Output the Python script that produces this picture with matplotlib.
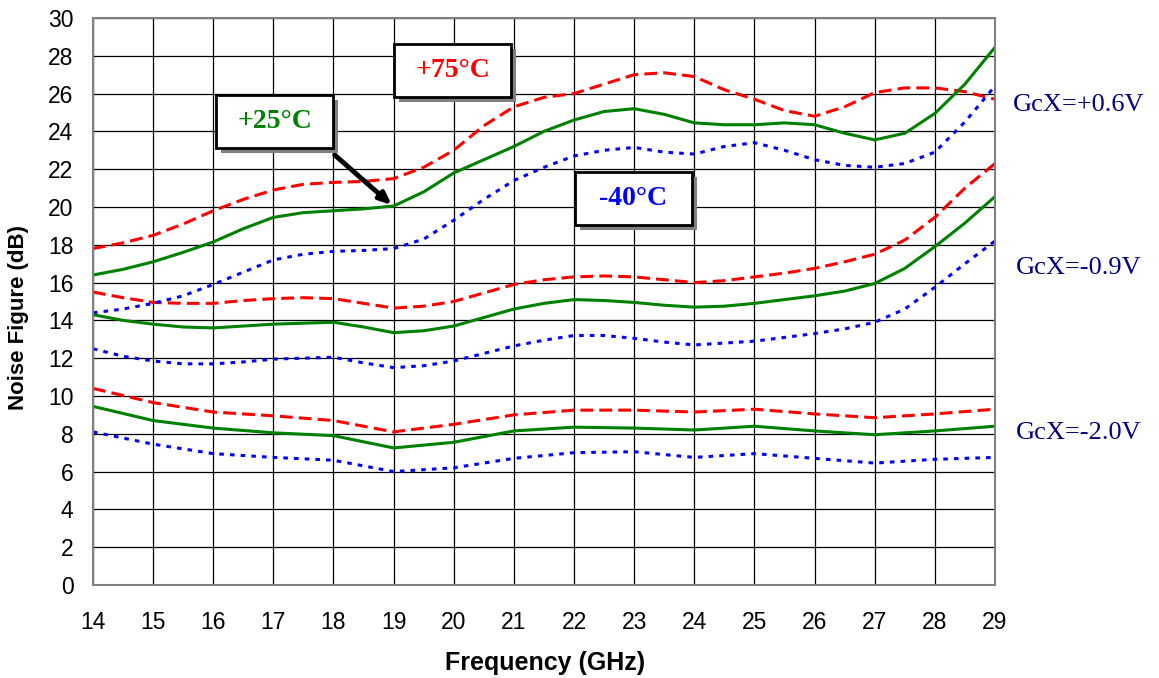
import matplotlib
matplotlib.use('Agg')
import matplotlib.pyplot as plt
from matplotlib.patches import FancyBboxPatch

f_half = [14, 14.5, 15, 15.5, 16, 16.5, 17, 17.5, 18, 18.5, 19, 19.5, 20, 20.5,
          21, 21.5, 22, 22.5, 23, 23.5, 24, 24.5, 25, 25.5, 26, 26.5, 27, 27.5,
          28, 28.5, 29]
f_int = list(range(14, 30))

# GcX = +0.6V
hot_06 = [17.8, 18.1, 18.5, 19.1, 19.8, 20.4, 20.9, 21.2, 21.3, 21.35, 21.5, 22.1,
          23.0, 24.3, 25.3, 25.8, 26.0, 26.5, 27.0, 27.1, 26.9, 26.2, 25.7, 25.1,
          24.8, 25.3, 26.05, 26.3, 26.3, 26.1, 25.7]
room_06 = [16.4, 16.7, 17.1, 17.6, 18.15, 18.85, 19.45, 19.7, 19.8, 19.9, 20.05,
           20.8, 21.8, 22.5, 23.2, 24.0, 24.6, 25.05, 25.2, 24.9, 24.45, 24.35,
           24.35, 24.45, 24.35, 23.9, 23.55, 23.9, 24.95, 26.5, 28.45]
cold_06 = [14.4, 14.6, 14.9, 15.3, 15.9, 16.55, 17.2, 17.5, 17.65, 17.7, 17.8,
           18.3, 19.3, 20.4, 21.4, 22.1, 22.7, 23.0, 23.15, 22.9, 22.8, 23.2,
           23.4, 23.0, 22.5, 22.2, 22.1, 22.3, 22.9, 24.5, 26.4]

# GcX = -0.9V
hot_09 = [15.5, 15.2, 14.95, 14.9, 14.9, 15.05, 15.15, 15.2, 15.15, 14.9, 14.65,
          14.75, 15.0, 15.45, 15.9, 16.15, 16.3, 16.35, 16.3, 16.15, 16.0, 16.1,
          16.3, 16.5, 16.75, 17.1, 17.5, 18.25, 19.45, 21.0, 22.3]
room_09 = [14.3, 14.0, 13.8, 13.65, 13.6, 13.7, 13.8, 13.85, 13.9, 13.65, 13.35,
           13.45, 13.7, 14.15, 14.6, 14.9, 15.1, 15.05, 14.95, 14.8, 14.7, 14.75,
           14.9, 15.1, 15.3, 15.55, 15.95, 16.75, 17.9, 19.15, 20.55]
cold_09 = [12.5, 12.1, 11.85, 11.7, 11.7, 11.8, 11.95, 12.0, 12.05, 11.75, 11.5,
           11.6, 11.85, 12.25, 12.65, 12.95, 13.2, 13.2, 13.05, 12.85, 12.7, 12.8,
           12.9, 13.1, 13.3, 13.55, 13.9, 14.6, 15.75, 17.0, 18.2]

# GcX = -2.0V
hot_20 = [10.4, 9.65, 9.15, 8.95, 8.7, 8.1, 8.5, 9.0, 9.25, 9.25, 9.15, 9.3, 9.05,
          8.85, 9.05, 9.3]
room_20 = [9.45, 8.7, 8.3, 8.05, 7.9, 7.25, 7.55, 8.15, 8.35, 8.3, 8.2, 8.4, 8.15,
           7.95, 8.15, 8.4]
cold_20 = [8.1, 7.45, 6.95, 6.75, 6.6, 6.0, 6.2, 6.7, 7.0, 7.05, 6.75, 6.95, 6.7,
           6.45, 6.65, 6.75]

gcx_labels = ['GcX=+0.6V', 'GcX=-0.9V', 'GcX=-2.0V']
gcx_label_y = [25.4, 16.75, 8.05]

RED, GREEN, BLUE, NAVY = '#ff0000', '#008000', '#0000ff', '#000080'

fig = plt.figure(figsize=(11.59, 6.78), dpi=100)
ax = fig.add_axes([0.0802, 0.1372, 0.7783, 0.8363])

lw = 2.2
for x, y in [(f_half, hot_06), (f_half, hot_09), (f_int, hot_20)]:
    ax.plot(x, y, color=RED, lw=lw, dashes=(4.2, 2.0), dash_capstyle='butt')
for x, y in [(f_half, room_06), (f_half, room_09), (f_int, room_20)]:
    ax.plot(x, y, color=GREEN, lw=lw)
for x, y in [(f_half, cold_06), (f_half, cold_09), (f_int, cold_20)]:
    ax.plot(x, y, color=BLUE, lw=lw, dashes=(1.5, 2.0), dash_capstyle='butt')

ax.set_xlim(14, 29)
ax.set_ylim(0, 30)
ax.set_xticks(range(14, 30))
ax.set_yticks(range(0, 31, 2))
ax.grid(True, color='black', lw=0.9)
ax.set_axisbelow(True)
for s in ax.spines.values():
    s.set_color('#808080')
    s.set_linewidth(1.5)
ax.tick_params(length=0, labelsize=16.5)
ax.tick_params(axis='x', pad=19)
ax.tick_params(axis='y', pad=14)
for lab in ax.get_xticklabels() + ax.get_yticklabels():
    lab.set_fontfamily('Liberation Sans')

fig.text(545 / 1159, 1 - 663 / 678, 'Frequency (GHz)', fontsize=18,
         fontweight='bold', family='Liberation Sans', ha='center', va='center')
fig.text(19 / 1159, 1 - 317 / 678, 'Noise Figure (dB)', fontsize=16,
         fontweight='bold', family='Liberation Sans', ha='center', va='center',
         rotation=90)

# temperature boxes with drop shadow
def temp_box(x0, y0, text, color):
    w, h = 117 / 1159, 53 / 678
    sh = FancyBboxPatch((x0 + 5 / 1159, y0 - 5 / 678), w, h,
                        boxstyle='square,pad=0', transform=fig.transFigure,
                        facecolor='#808080', edgecolor='none', zorder=5)
    bx = FancyBboxPatch((x0, y0), w, h, boxstyle='square,pad=0',
                        transform=fig.transFigure, facecolor='white',
                        edgecolor='black', lw=2, zorder=6)
    fig.patches.extend([sh, bx])
    fig.text(x0 + w / 2, y0 + h / 2, text, color=color, fontsize=20,
             fontweight='bold', family='Liberation Serif', ha='center',
             va='center', zorder=7)

temp_box(394 / 1159, 1 - 97 / 678, '+75°C', RED)
temp_box(216 / 1159, 1 - 148 / 678, '+25°C', GREEN)
temp_box(575 / 1159, 1 - 225 / 678, '-40°C', BLUE)

ax.annotate('', xy=(18.97, 20.1), xytext=(18.02, 22.75),
            arrowprops=dict(arrowstyle='-|>,head_length=0.7,head_width=0.3',
                            color='black', lw=3.5, shrinkA=0, shrinkB=0),
            zorder=8)

for txt, yv in zip(gcx_labels, gcx_label_y):
    ax.text(1.093, yv / 30, txt, transform=ax.transAxes, color=NAVY,
            fontsize=19, family='Liberation Serif', ha='center', va='center')

fig.savefig('out.png', dpi=100)
